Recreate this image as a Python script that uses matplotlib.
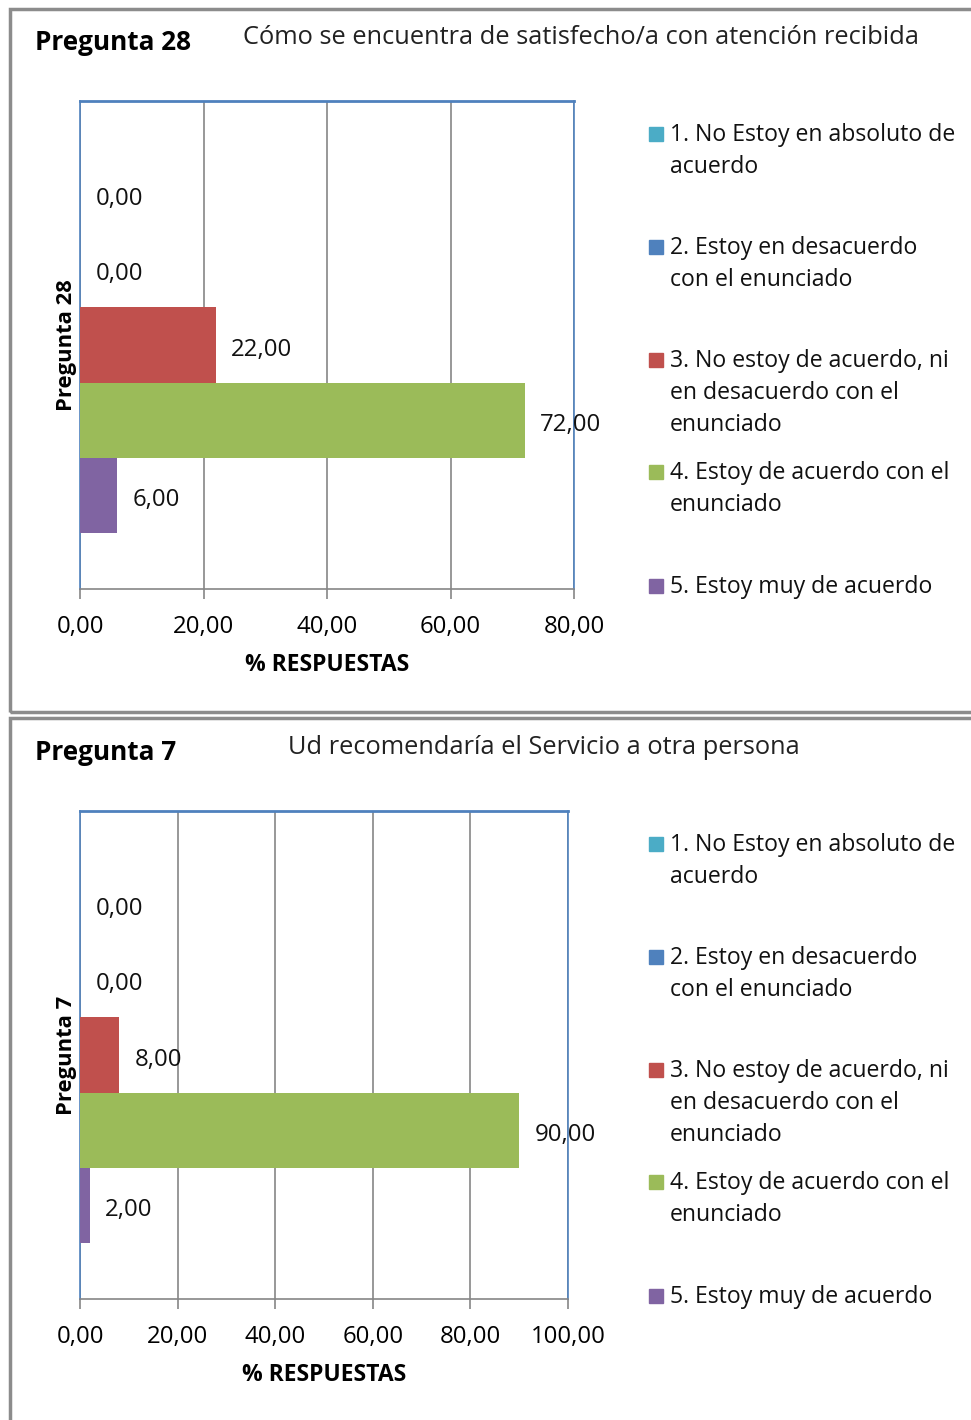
import numpy as np
import matplotlib
matplotlib.use('Agg')
import matplotlib.pyplot as plt
from matplotlib.patches import Rectangle

plt.rcParams['font.family'] = ['Open Sans', 'DejaVu Sans']

# data
series_labels = ['1. No Estoy en absoluto de\nacuerdo',
                 '2. Estoy en desacuerdo\ncon el enunciado',
                 '3. No estoy de acuerdo, ni\nen desacuerdo con el\nenunciado',
                 '4. Estoy de acuerdo con el\nenunciado',
                 '5. Estoy muy de acuerdo']
colors = ['#4BACC6', '#4F81BD', '#C0504D', '#9BBB59', '#8064A2']

p28_values = [0.0, 0.0, 22.0, 72.0, 6.0]
p28_ticks = [0, 20, 40, 60, 80]
p28_title = 'Pregunta 28'
p28_question = 'Cómo se encuentra de satisfecho/a con atención recibida'

p7_values = [0.0, 0.0, 8.0, 90.0, 2.0]
p7_ticks = [0, 20, 40, 60, 80, 100]
p7_title = 'Pregunta 7'
p7_question = 'Ud recomendaría el Servicio a otra persona'

W, H = 971, 1420
fig = plt.figure(figsize=(W / 100, H / 100), dpi=100)


def fx(px):
    return px / W


def fy(py):
    return 1 - py / H


def panel(dy, frame, values, ticks, title, question, q_x, ax_right):
    # outer frame of the panel (pixel rows, top and bottom)
    f_top, f_bot = frame
    fig.patches.append(Rectangle((fx(10), fy(f_bot)), fx(1000), (f_bot - f_top) / H,
                                 transform=fig.transFigure, fill=False,
                                 edgecolor='#8c8c8c', linewidth=2.5, clip_on=False))
    fig.text(fx(35), fy(dy + 42), title, fontsize=18.8, fontweight='bold', va='center')
    fig.text(fx(q_x), fy(dy + 38), question, fontsize=18.3, va='center', color='#222222')

    ax = fig.add_axes([fx(80), fy(dy + 589), fx(ax_right - 80), 488 / H])
    h = 0.154
    for i, v in enumerate(values):
        y = (2 - i) * h
        ax.barh(y, v, height=h, color=colors[i], zorder=3)
        ax.annotate(f'{v:.2f}'.replace('.', ','), (v, y), xytext=(11, -3.3),
                    textcoords='offset points', va='center', ha='left',
                    fontsize=17.3, color='#111111', zorder=4)
    ax.set_ylim(-0.5, 0.5)
    ax.set_xlim(ticks[0], ticks[-1])
    ax.set_xticks(ticks)
    ax.set_xticklabels([f'{t:.2f}'.replace('.', ',') for t in ticks], fontsize=17.3)
    ax.set_yticks([])
    ax.grid(axis='x', color='#868686', linewidth=1.2, zorder=0)
    ax.tick_params(axis='x', length=7, width=1.2, color='#868686', pad=12)
    for s in ['left', 'top', 'right']:
        ax.spines[s].set_color('#4F81BD')
        ax.spines[s].set_linewidth(1.2)
    ax.spines['top'].set_linewidth(2)
    ax.spines['bottom'].set_color('#868686')
    ax.spines['bottom'].set_linewidth(1.2)
    ax.set_xlabel('% RESPUESTAS', fontsize=16.5, fontweight='bold', labelpad=10)
    ax.set_ylabel(title, fontsize=15.8, fontweight='bold', labelpad=2)

    # legend, drawn by hand to follow the original layout
    rows = [134, 247, 360, 472, 586]
    for i, lab in enumerate(series_labels):
        ry = dy + rows[i]
        fig.patches.append(Rectangle((fx(649), fy(ry + 7)), fx(14), 14 / H,
                                     transform=fig.transFigure, color=colors[i]))
        fig.text(fx(670), fy(ry - 11), lab, fontsize=16.6, va='top', ha='left',
                 linespacing=1.45, color='#111111')


panel(0, (9, 712), p28_values, p28_ticks, p28_title, p28_question, 243, 574)
panel(710, (718, 1500), p7_values, p7_ticks, p7_title, p7_question, 288, 568)

fig.savefig('out.png', dpi=100)
